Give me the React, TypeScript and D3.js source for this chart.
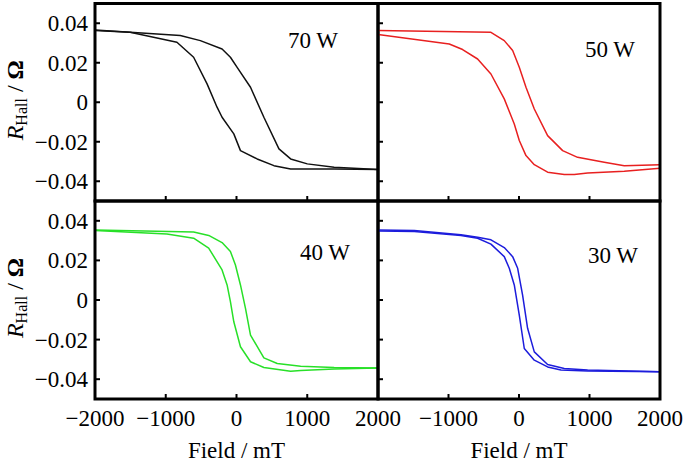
import * as d3 from 'd3';

type Pt = [number, number];

const FIELD_TICKS = [-1000, 0, 1000];
const FIELD_LABELS_LEFT = [-2000, -1000, 0, 1000, 2000];
const FIELD_LABELS_RIGHT = [-1000, 0, 1000, 2000];
const R_TICKS = [-0.04, -0.02, 0, 0.02, 0.04];

// 70 W
const w70Down: Pt[] = [[-2000, 0.0366], [-1504, 0.0354], [-842, 0.0304], [-606, 0.0228], [-416, 0.0093], [-275, -0.0025], [-204, -0.0076], [-38, -0.016], [56, -0.0245], [292, -0.0287], [529, -0.0321], [765, -0.0338], [1380, -0.0338], [2000, -0.0341]];
const w70Up: Pt[] = [[-2000, 0.0363], [-1504, 0.0354], [-795, 0.0338], [-511, 0.0312], [-204, 0.027], [-86, 0.0228], [9, 0.0177], [198, 0.0076], [387, -0.0076], [600, -0.0236], [765, -0.0287], [1001, -0.0312], [1380, -0.0329], [2000, -0.0341]];

// 50 W
const w50Down: Pt[] = [[-2000, 0.0343], [-989, 0.0295], [-800, 0.0267], [-587, 0.0219], [-398, 0.0143], [-209, 0.0017], [-67, -0.011], [4, -0.0194], [99, -0.027], [217, -0.0316], [406, -0.0354], [642, -0.0366], [784, -0.0366], [973, -0.0358], [1493, -0.0349], [2000, -0.0334]];
const w50Up: Pt[] = [[-2000, 0.0363], [-398, 0.0354], [-209, 0.0312], [-90, 0.0262], [4, 0.0177], [99, 0.0076], [217, -0.0034], [406, -0.0169], [619, -0.0245], [831, -0.0279], [1209, -0.0304], [1493, -0.0321], [2000, -0.0317]];

// 40 W
const w40Down: Pt[] = [[-2000, 0.0351], [-984, 0.0333], [-606, 0.0312], [-393, 0.0262], [-204, 0.0152], [-133, 0.0076], [-86, -0.0008], [-38, -0.011], [56, -0.0236], [198, -0.0312], [387, -0.0341], [765, -0.036], [907, -0.0356], [1380, -0.0349], [2000, -0.0343]];
const w40Up: Pt[] = [[-2000, 0.0354], [-606, 0.0343], [-393, 0.0326], [-204, 0.029], [-86, 0.0245], [-15, 0.0177], [56, 0.0076], [127, -0.0042], [198, -0.0177], [387, -0.0292], [576, -0.0321], [907, -0.0334], [1380, -0.0341], [2000, -0.0343]];

// 30 W
const w30Down: Pt[] = [[-2000, 0.0349], [-1485, 0.0346], [-823, 0.0326], [-587, 0.0312], [-398, 0.0282], [-209, 0.0219], [-138, 0.016], [-67, 0.0076], [4, -0.0076], [75, -0.0245], [217, -0.0304], [406, -0.0338], [595, -0.0354], [973, -0.0358], [2000, -0.0363]];
const w30Up: Pt[] = [[-2000, 0.0354], [-1485, 0.0351], [-823, 0.0329], [-587, 0.0317], [-398, 0.0304], [-209, 0.0265], [-90, 0.0219], [-19, 0.016], [51, 0.0025], [122, -0.0143], [217, -0.0262], [406, -0.0326], [642, -0.0346], [973, -0.0354], [2000, -0.0363]];

const FONT = "'Liberation Serif', 'Times New Roman', serif";
const LEFT = 95, MIDX = 378, RIGHT = 660;
const TOP = 3.5, MIDY = 201, BOTTOM = 399;

interface PanelProps {
  id: string;
  x0: number; x1: number; y0: number; y1: number;
  branches: Pt[][];
  color: string;
  label: string;
  labelX: number; labelY: number;
  yLabels: boolean;
  xLabels: number[] | null;
}

const fmtR = (d: number) => (d === 0 ? '0' : d3.format('.2f')(d));

function Panel(p: PanelProps) {
  const x = d3.scaleLinear().domain([-2000, 2000]).range([p.x0, p.x1]);
  const y = d3.scaleLinear().domain([-0.05, 0.05]).range([p.y1, p.y0]);
  const line = d3.line<Pt>().x((d) => x(d[0])).y((d) => y(d[1]));
  const cy = (p.y0 + p.y1) / 2;

  return (
    <g>
      <clipPath id={p.id}>
        <rect x={p.x0} y={p.y0} width={p.x1 - p.x0} height={p.y1 - p.y0} />
      </clipPath>
      <g clipPath={`url(#${p.id})`}>
        {p.branches.map((b, i) => (
          <path key={i} d={line(b) ?? ''} fill="none" stroke={p.color} strokeWidth={1.5} strokeLinejoin="round" />
        ))}
      </g>
      {R_TICKS.map((t) => (
        <line key={t} x1={p.x0} x2={p.x0 + 5} y1={y(t)} y2={y(t)} stroke="#000" strokeWidth={2} />
      ))}
      {FIELD_TICKS.map((t) => (
        <line key={t} x1={x(t)} x2={x(t)} y1={p.y1} y2={p.y1 - 5} stroke="#000" strokeWidth={2} />
      ))}
      <rect x={p.x0} y={p.y0} width={p.x1 - p.x0} height={p.y1 - p.y0} fill="none" stroke="#000" strokeWidth={3} />
      <text x={p.labelX} y={p.labelY} fontSize={23} fontFamily={FONT} fill="#000">{p.label}</text>
      {p.yLabels && R_TICKS.map((t) => (
        <text key={t} x={p.x0 - 7} y={y(t)} dy="0.35em" textAnchor="end" fontSize={23} fontFamily={FONT}>
          {fmtR(t)}
        </text>
      ))}
      {p.yLabels && (
        <text transform={`translate(23,${cy - 2}) rotate(-90)`} textAnchor="middle" fontSize={24} fontFamily={FONT}>
          <tspan fontStyle="italic">R</tspan>
          <tspan fontSize={16} dy={4}>Hall</tspan>
          <tspan dy={-4}> / </tspan>
          <tspan fontWeight="bold">Ω</tspan>
        </text>
      )}
      {p.xLabels && p.xLabels.map((t) => (
        <text key={t} x={x(t)} y={426} textAnchor="middle" fontSize={23} fontFamily={FONT}>
          {d3.format('d')(t)}
        </text>
      ))}
      {p.xLabels && (
        <text x={(p.x0 + p.x1) / 2} y={458} textAnchor="middle" fontSize={23} fontFamily={FONT}>
          Field / mT
        </text>
      )}
    </g>
  );
}

export default function App() {
  return (
    <svg width={685} height={464} style={{ position: 'absolute', left: 0, top: 0, background: '#fff' }}>
      <Panel id="c70" x0={LEFT} x1={MIDX} y0={TOP} y1={MIDY} branches={[w70Down, w70Up]} color="#111"
        label="70 W" labelX={288} labelY={48} yLabels xLabels={null} />
      <Panel id="c50" x0={MIDX} x1={RIGHT} y0={TOP} y1={MIDY} branches={[w50Down, w50Up]} color="#e82020"
        label="50 W" labelX={585} labelY={57} yLabels={false} xLabels={null} />
      <Panel id="c40" x0={LEFT} x1={MIDX} y0={MIDY} y1={BOTTOM} branches={[w40Down, w40Up]} color="#28e028"
        label="40 W" labelX={300} labelY={260} yLabels xLabels={FIELD_LABELS_LEFT} />
      <Panel id="c30" x0={MIDX} x1={RIGHT} y0={MIDY} y1={BOTTOM} branches={[w30Down, w30Up]} color="#1c1cdc"
        label="30 W" labelX={588} labelY={263} yLabels={false} xLabels={FIELD_LABELS_RIGHT} />
    </svg>
  );
}
